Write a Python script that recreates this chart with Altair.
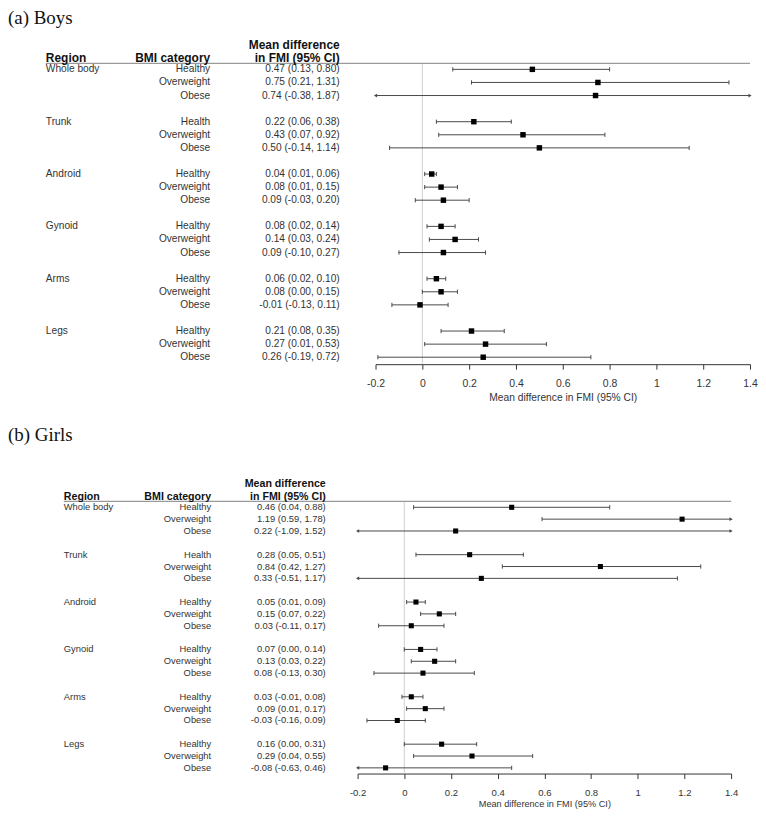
import altair as alt
import pandas as pd

# ---------------- data ----------------
regions = ["Whole body", "Trunk", "Android", "Gynoid", "Arms", "Legs"]

boys_categories = ["Healthy", "Overweight", "Obese",
                   "Health", "Overweight", "Obese",
                   "Healthy", "Overweight", "Obese",
                   "Healthy", "Overweight", "Obese",
                   "Healthy", "Overweight", "Obese",
                   "Healthy", "Overweight", "Obese"]
boys_ci_text = ["0.47 (0.13, 0.80)", "0.75 (0.21, 1.31)", "0.74 (-0.38, 1.87)",
                "0.22 (0.06, 0.38)", "0.43 (0.07, 0.92)", "0.50 (-0.14, 1.14)",
                "0.04 (0.01, 0.06)", "0.08 (0.01, 0.15)", "0.09 (-0.03, 0.20)",
                "0.08 (0.02, 0.14)", "0.14 (0.03, 0.24)", "0.09 (-0.10, 0.27)",
                "0.06 (0.02, 0.10)", "0.08 (0.00, 0.15)", "-0.01 (-0.13, 0.11)",
                "0.21 (0.08, 0.35)", "0.27 (0.01, 0.53)", "0.26 (-0.19, 0.72)"]
boys_mean = [0.47, 0.75, 0.74, 0.22, 0.43, 0.50, 0.04, 0.08, 0.09,
             0.08, 0.14, 0.09, 0.06, 0.08, -0.01, 0.21, 0.27, 0.26]
boys_lower = [0.13, 0.21, -0.38, 0.06, 0.07, -0.14, 0.01, 0.01, -0.03,
              0.02, 0.03, -0.10, 0.02, 0.00, -0.13, 0.08, 0.01, -0.19]
boys_upper = [0.80, 1.31, 1.87, 0.38, 0.78, 1.14, 0.06, 0.15, 0.20,
              0.14, 0.24, 0.27, 0.10, 0.15, 0.11, 0.35, 0.53, 0.72]

girls_categories = ["Healthy", "Overweight", "Obese",
                    "Health", "Overweight", "Obese",
                    "Healthy", "Overweight", "Obese",
                    "Healthy", "Overweight", "Obese",
                    "Healthy", "Overweight", "Obese",
                    "Healthy", "Overweight", "Obese"]
girls_ci_text = ["0.46 (0.04, 0.88)", "1.19 (0.59, 1.78)", "0.22 (-1.09, 1.52)",
                 "0.28 (0.05, 0.51)", "0.84 (0.42, 1.27)", "0.33 (-0.51, 1.17)",
                 "0.05 (0.01, 0.09)", "0.15 (0.07, 0.22)", "0.03 (-0.11, 0.17)",
                 "0.07 (0.00, 0.14)", "0.13 (0.03, 0.22)", "0.08 (-0.13, 0.30)",
                 "0.03 (-0.01, 0.08)", "0.09 (0.01, 0.17)", "-0.03 (-0.16, 0.09)",
                 "0.16 (0.00, 0.31)", "0.29 (0.04, 0.55)", "-0.08 (-0.63, 0.46)"]
girls_mean = [0.46, 1.19, 0.22, 0.28, 0.84, 0.33, 0.05, 0.15, 0.03,
              0.07, 0.13, 0.08, 0.03, 0.09, -0.03, 0.16, 0.29, -0.08]
girls_lower = [0.04, 0.59, -1.09, 0.05, 0.42, -0.51, 0.01, 0.07, -0.11,
               0.00, 0.03, -0.13, -0.01, 0.01, -0.16, 0.00, 0.04, -0.63]
girls_upper = [0.88, 1.78, 1.52, 0.51, 1.27, 1.17, 0.09, 0.22, 0.17,
               0.14, 0.22, 0.30, 0.08, 0.17, 0.09, 0.31, 0.55, 0.46]

axis_ticks = [-0.2, 0, 0.2, 0.4, 0.6, 0.8, 1.0, 1.2, 1.4]
x_domain = [-0.2, 1.4]
header_region = "Region"
header_bmi = "BMI category"
header_md1 = "Mean difference"
header_md2 = "in FMI (95% CI)"
axis_title = "Mean difference in FMI (95% CI)"

SANS = "Liberation Sans"
SERIF = "Liberation Serif"


def panel(title, cats, ci_text, mean, lower, upper, L):
    n = len(mean)
    rows = [(i // 3) * 4 + (i % 3) for i in range(n)]
    lo, hi = x_domain
    df = pd.DataFrame({
        "row": rows, "cat": cats, "ci": ci_text, "mean": mean,
        "lower": lower, "upper": upper,
    })
    df["lo_c"] = df["lower"].clip(lower=lo)
    df["hi_c"] = df["upper"].clip(upper=hi)

    caps = pd.concat([
        pd.DataFrame({"row": df["row"][df["lower"] >= lo], "v": df["lower"][df["lower"] >= lo]}),
        pd.DataFrame({"row": df["row"][df["upper"] <= hi], "v": df["upper"][df["upper"] <= hi]}),
    ])
    left_arr = pd.DataFrame({"row": df["row"][df["lower"] < lo], "v": lo})
    right_arr = pd.DataFrame({"row": df["row"][df["upper"] > hi], "v": hi})
    reg = pd.DataFrame({"row": [g * 4 for g in range(len(regions))], "region": regions})
    one = pd.DataFrame({"zero": [0]})

    xscale = alt.Scale(domain=x_domain, range=[L["x0"], L["x1"]], nice=False, zero=False)
    xaxis = alt.Axis(values=axis_ticks, title=axis_title, grid=False,
                     domainColor="#333", tickColor="#333", tickSize=5,
                     labelFont=SANS, labelFontSize=L["afs"], labelColor="#333",
                     labelPadding=L["lpad"], labelExpr="'' + round(datum.value*10)/10",
                     labelFlush=False, labelOverlap=False,
                     titleFont=SANS, titleFontSize=L["tfs"], titleFontWeight="normal",
                     titleColor="#333", titlePadding=L["tpad"])
    yscale = alt.Scale(domain=[0, 22], range=[L["r0"], L["r1"]], nice=False, zero=False)

    def X(f):
        return alt.X(f, type="quantitative", scale=xscale, axis=xaxis)

    def Y(f):
        return alt.Y(f, type="quantitative", scale=yscale, axis=None)

    base_one = alt.Chart(one)
    zero_line = base_one.mark_rule(color="#cfcfcf", strokeWidth=1).encode(
        x=X("zero"), y=alt.value(L["line"]), y2=alt.value(L["h"]))
    hline = base_one.mark_rule(color="#9a9a9a", strokeWidth=1.2).encode(
        x=alt.value(L["reg_x"]), x2=alt.value(L["x1"]), y=alt.value(L["line"]))
    ttl = base_one.mark_text(font=SERIF, fontSize=19, align="left", baseline="alphabetic",
                             color="#111", text=title).encode(
        x=alt.value(0), y=alt.value(L["title_y"]))
    h_reg = base_one.mark_text(font=SANS, fontSize=L["hfs"], fontWeight="bold", align="left",
                               baseline="middle", color="#111", text=header_region).encode(
        x=alt.value(L["reg_x"]), y=alt.value(L["h2"]))
    h_bmi = base_one.mark_text(font=SANS, fontSize=L["hfs"], fontWeight="bold", align="right",
                               baseline="middle", color="#111", text=header_bmi).encode(
        x=alt.value(L["cat_x"]), y=alt.value(L["h2"]))
    h_md1 = base_one.mark_text(font=SANS, fontSize=L["hfs"], fontWeight="bold", align="right",
                               baseline="middle", color="#111", text=header_md1).encode(
        x=alt.value(L["ci_x"]), y=alt.value(L["h1"]))
    h_md2 = base_one.mark_text(font=SANS, fontSize=L["hfs"], fontWeight="bold", align="right",
                               baseline="middle", color="#111", text=header_md2).encode(
        x=alt.value(L["ci_x"]), y=alt.value(L["h2"]))

    base = alt.Chart(df)
    ci_rule = base.mark_rule(color="#4a4a4a", strokeWidth=1).encode(
        x=X("lo_c"), x2="hi_c", y=Y("row"))
    cap_pts = alt.Chart(caps).mark_point(shape="M0,-1L0,1", size=18, filled=False,
                                         strokeWidth=1, color="#4a4a4a", opacity=1).encode(
        x=X("v"), y=Y("row"))
    la = alt.Chart(left_arr).mark_point(shape="triangle-left", size=14, filled=True,
                                        color="#4a4a4a", opacity=1).encode(x=X("v"), y=Y("row"))
    ra = alt.Chart(right_arr).mark_point(shape="triangle-right", size=14, filled=True,
                                         color="#4a4a4a", opacity=1).encode(x=X("v"), y=Y("row"))
    sq = base.mark_square(size=L["sq"], color="#000", opacity=1).encode(x=X("mean"), y=Y("row"))
    t_reg = alt.Chart(reg).mark_text(font=SANS, fontSize=L["fs"], align="left", baseline="middle",
                                     color="#333").encode(
        x=alt.value(L["reg_x"]), y=Y("row"), text="region:N")
    t_cat = base.mark_text(font=SANS, fontSize=L["fs"], align="right", baseline="middle",
                           color="#333").encode(x=alt.value(L["cat_x"]), y=Y("row"), text="cat:N")
    t_ci = base.mark_text(font=SANS, fontSize=L["fs"], align="right", baseline="middle",
                          color="#333").encode(x=alt.value(L["ci_x"]), y=Y("row"), text="ci:N")

    layers = [zero_line, hline, ci_rule, cap_pts, la, ra, sq, t_reg, t_cat, t_ci,
              ttl, h_reg, h_bmi, h_md1, h_md2]
    return alt.layer(*layers).properties(width=L["w"], height=L["h"])


boys_L = dict(x0=369, x1=745, w=745, h=356, r0=60, r1=349, line=54,
              reg_x=38, cat_x=203, ci_x=333, h1=36, h2=48.5, title_y=14,
              fs=10.2, hfs=12, afs=10.5, tfs=10.3, lpad=9.5, tpad=3, sq=30)
girls_L = dict(x0=351, x1=726, w=745, h=354, r0=86.7, r1=348.3, line=80.7,
               reg_x=56, cat_x=204, ci_x=319, h1=63.3, h2=76, title_y=20,
               fs=9.4, hfs=10.7, afs=9.6, tfs=9.2, lpad=9.5, tpad=2, sq=26)

boys = panel("(a) Boys", boys_categories, boys_ci_text, boys_mean, boys_lower, boys_upper, boys_L)
girls = panel("(b) Girls", girls_categories, girls_ci_text, girls_mean, girls_lower, girls_upper, girls_L)

chart = alt.vconcat(boys, girls, spacing=18).properties(
    padding={"left": 0, "top": -1, "right": 0, "bottom": 0}
).configure_view(stroke=None).resolve_scale(x="independent", y="independent")

chart.save("out.html", embed_options={"renderer": "svg", "actions": False})
